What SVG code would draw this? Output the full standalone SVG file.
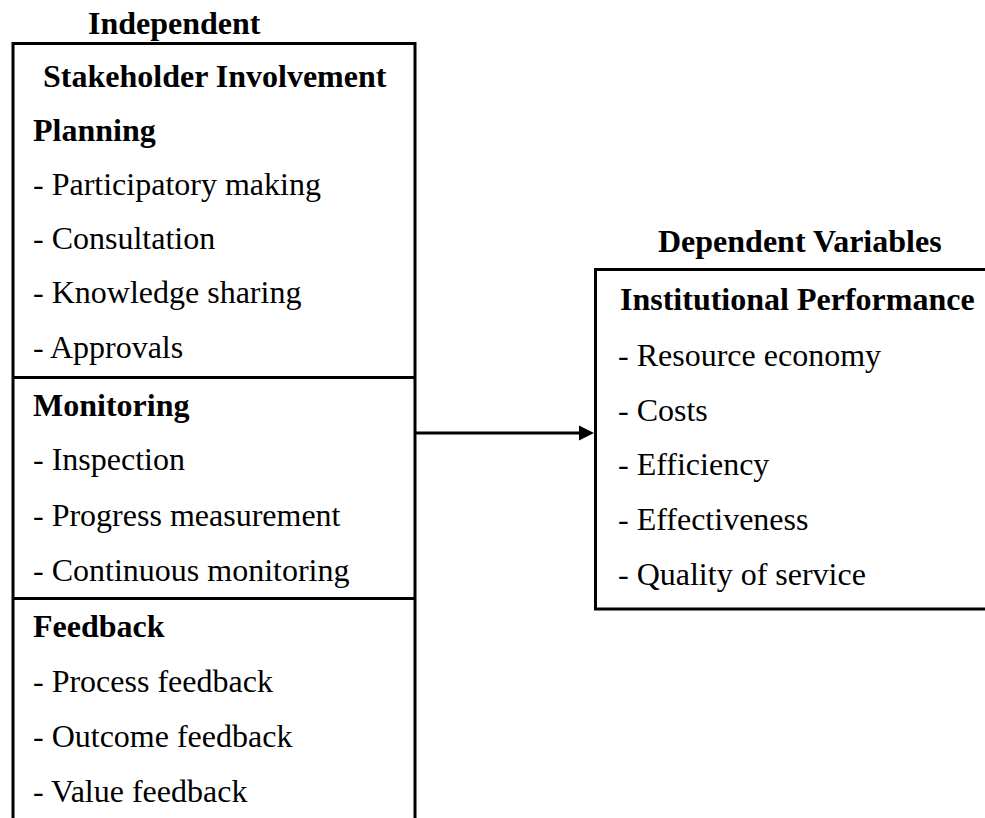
<svg xmlns="http://www.w3.org/2000/svg" width="985" height="818" viewBox="0 0 985 818">
<style>
text{font-family:"Liberation Serif","Times New Roman",serif;font-size:32px;fill:#000}
.b{font-weight:bold}
.box{fill:none;stroke:#000;stroke-width:3}
</style>
<rect width="985" height="818" fill="#fff"/>
<g id="independent">
<text class="b" x="88" y="34">Independent</text>
<path class="box" d="M13,830 V43.5 H415 V830"/>
<line class="box" x1="13" y1="377.5" x2="415" y2="377.5"/>
<line class="box" x1="13" y1="598.5" x2="415" y2="598.5"/>
<text class="b" x="43" y="87">Stakeholder Involvement</text>
<text class="b" x="33" y="141">Planning</text>
<text x="33" y="195">- Participatory making</text>
<text x="33" y="249">- Consultation</text>
<text x="33" y="303">- Knowledge sharing</text>
<text x="33" y="358">- Approvals</text>
<text class="b" x="33" y="416">Monitoring</text>
<text x="33" y="470">- Inspection</text>
<text x="33" y="526">- Progress measurement</text>
<text x="33" y="581">- Continuous monitoring</text>
<text class="b" x="33" y="637">Feedback</text>
<text x="33" y="692">- Process feedback</text>
<text x="33" y="747">- Outcome feedback</text>
<text x="33" y="802">- Value feedback</text>
</g>
<g id="dependent">
<text class="b" x="658" y="252">Dependent Variables</text>
<path class="box" d="M1000,269.5 H595.5 V609 H1000"/>
<text class="b" x="620" y="310">Institutional Performance</text>
<text x="618" y="366">- Resource economy</text>
<text x="618" y="421">- Costs</text>
<text x="618" y="475">- Efficiency</text>
<text x="618" y="530">- Effectiveness</text>
<text x="618" y="585">- Quality of service</text>
</g>
<g id="connectors">
<line x1="415" y1="433" x2="580" y2="433" stroke="#000" stroke-width="3"/>
<path d="M579,425.5 L594,433 L579,440.5 Z" fill="#000"/>
</g>
</svg>
